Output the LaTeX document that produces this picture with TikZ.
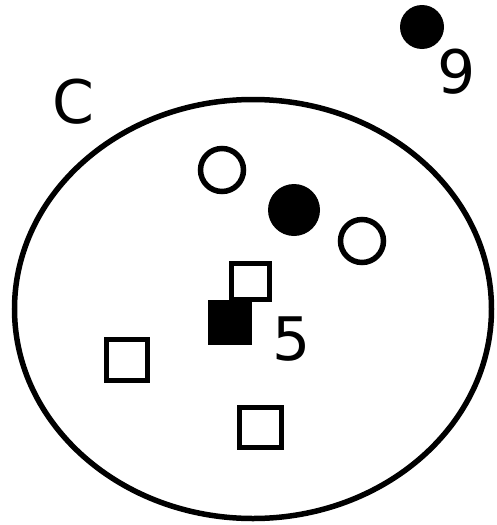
\documentclass[tikz,border=0pt]{standalone}
\usepackage{fontspec}
\setmainfont{DejaVu Sans}
\begin{document}
\begin{tikzpicture}[x=1pt,y=-1pt,
  lbl/.style={font=\fontsize{60}{60}\selectfont, inner sep=0pt, anchor=base},
  opencirc/.style={draw=black, line width=5.5pt, fill=white},
  fullcirc/.style={fill=black},
  opensq/.style={draw=black, line width=5.5pt, fill=white},
  fullsq/.style={fill=black}]
\useasboundingbox (0,0) rectangle (497,525);
\draw[line width=5.5pt] (253,309) ellipse [x radius=238.5, y radius=209.5];
\fill[fullcirc] (422,27) circle [radius=22];
\node[lbl] (nine) at (457,93) {9};
\node[lbl] (c) at (73,123) {C};
\draw[opencirc] (222,170) circle [radius=21.5];
\fill[fullcirc] (294,210) circle [radius=26];
\draw[opencirc] (362,241) circle [radius=21.5];
\draw[opensq] (231.5,263.5) rectangle (269.5,299.5);
\fill[fullsq] (208,300) rectangle (252,345);
\node[lbl] (five) at (292,360) {5};
\draw[opensq] (106.5,339.5) rectangle (147.5,380.5);
\draw[opensq] (239.5,407.5) rectangle (281.5,447.5);
\end{tikzpicture}
\end{document}
